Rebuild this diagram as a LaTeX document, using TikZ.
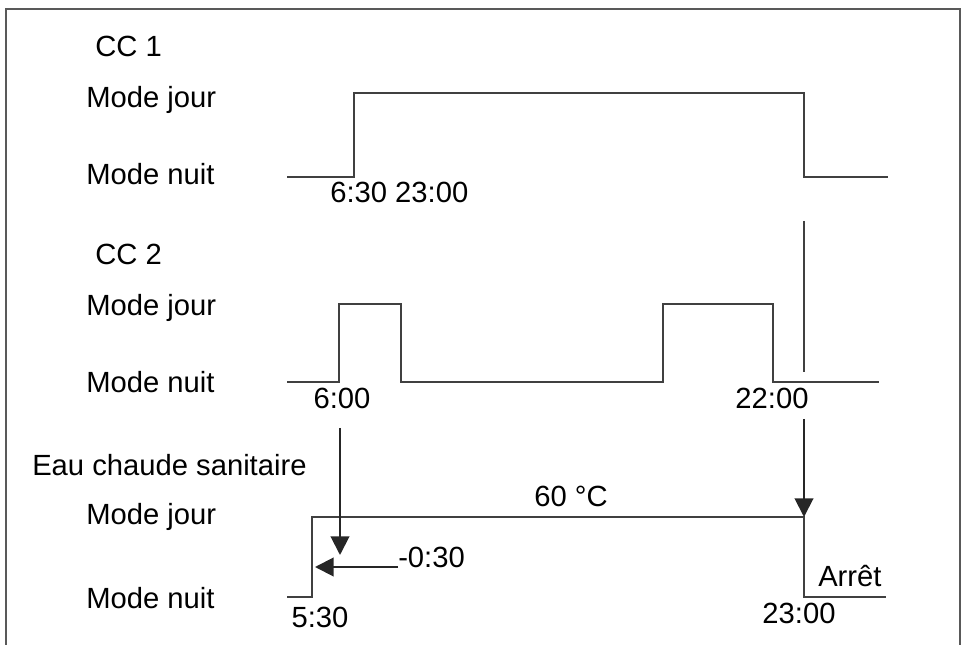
\documentclass[tikz,border=0pt]{standalone}
\usepackage{fontspec}
\setmainfont{Liberation Sans}
\usetikzlibrary{arrows.meta}

\begin{document}
\begin{tikzpicture}[x=0.75pt,y=-0.75pt,
        every node/.style={inner sep=0pt,font=\fontsize{21.9}{26}\selectfont},
        signal/.style={line width=1.5pt,draw=black!75},
        timearrow/.style={line width=1.5pt,draw=black!85,-{Triangle[length=14pt,width=14pt]}}]
            \useasboundingbox (0,0) rectangle (965,645);
            % Frame
            \draw[line width=1.1pt,black!65] (6,660) -- (6,9) -- (960,9) -- (960,660);

            % Channel titles
            \node[anchor=base west] (cc1) at (95,57) {CC 1};
            \node[anchor=base west] (cc2) at (95,265) {CC 2};
            \node[anchor=base west] (ecs) at (32,476) {Eau chaude sanitaire};

            % Mode labels
            \foreach \n/\yj/\yn in {cc1/108/185, cc2/316/393, ecs/524/609} {
                    \node[anchor=base west] (\n jour) at (86,\yj) {Mode jour};
                    \node[anchor=base west] (\n nuit) at (86,\yn) {Mode nuit};
                }

            % Signals
            \draw[signal] (287,177) -- (354,177) -- (354,93) -- (804,93) -- (804,177) -- (888,177);
            \draw[signal] (287,382) -- (339,382) -- (339,304) -- (401,304) -- (401,382)
                -- (663,382) -- (663,304) -- (773,304) -- (773,382) -- (879,382);
            \draw[signal] (287,597) -- (312,597) -- (312,517) -- (804,517) -- (804,597) -- (886,597);

            % Times
            \node[anchor=base west] (t630) at (330,203) {6:30 23:00};
            \node[anchor=base] (t600) at (342,409) {6:00};
            \node[anchor=base] (t2200) at (772,409) {22:00};
            \node[anchor=base] (t530) at (320,627) {5:30};
            \node[anchor=base] (t2300) at (799,623) {23:00};
            \node[anchor=base west] (shift) at (398,567) {-0:30};
            \node[anchor=base west] (off) at (818,586) {Arrêt};
            \node[anchor=base] (temp) at (571,507) {60 °C};

            % Links
            \coordinate (cc1down) at (804,221);
            \coordinate (cc1end) at (804,372);
            \draw[signal] (cc1down) -- (cc1end);
            \coordinate (start) at (340,428);
            \coordinate (startend) at (340,555);
            \draw[timearrow] (start) -- (startend);
            \coordinate (stop) at (804,419);
            \coordinate (stopend) at (804,517);
            \draw[timearrow] (stop) -- (stopend);
            \coordinate (shiftstart) at (398,567);
            \coordinate (shiftend) at (315,567);
            \draw[timearrow] (shiftstart) -- (shiftend);
        \end{tikzpicture}
\end{document}
